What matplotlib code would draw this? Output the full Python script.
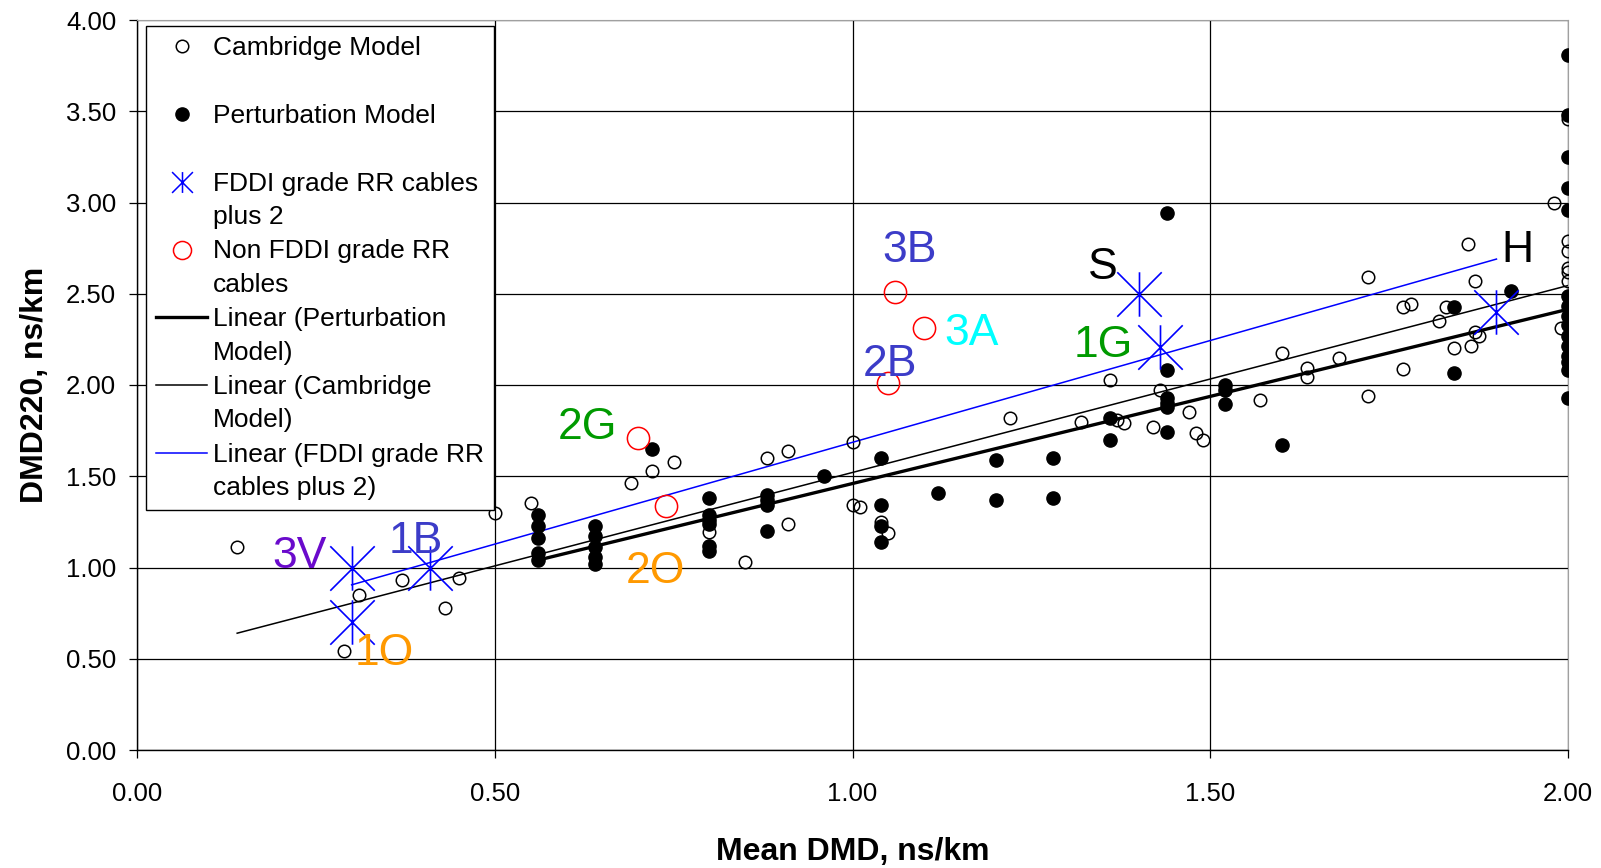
import numpy as np
import matplotlib
matplotlib.use("Agg")
import matplotlib.pyplot as plt
from matplotlib.lines import Line2D
from matplotlib.path import Path
from matplotlib.legend_handler import HandlerLine2D
from matplotlib.ticker import FormatStrFormatter, MultipleLocator

plt.rcParams["font.family"] = ["Liberation Sans", "DejaVu Sans"]

# ── Data ──────────────────────────────────────────────────────────────────────
camb_x = [0.14, 0.29, 0.31, 0.37, 0.43, 0.45, 0.50, 0.55, 0.69, 0.72, 0.75,
          0.80, 0.85, 0.88, 0.91, 0.91, 1.00, 1.00, 1.01, 1.04, 1.05, 1.22,
          1.32, 1.36, 1.37, 1.38, 1.42, 1.43, 1.47, 1.48, 1.49, 1.57, 1.60,
          1.635, 1.635, 1.68, 1.72, 1.72, 1.77, 1.77, 1.78, 1.82, 1.83, 1.84,
          1.86, 1.87, 1.87, 1.875, 1.865, 1.98, 1.99, 2.00, 2.00, 2.00, 2.00,
          2.00, 2.00]
camb_y = [1.11, 0.54, 0.85, 0.93, 0.78, 0.94, 1.30, 1.355, 1.465, 1.53, 1.58,
          1.195, 1.03, 1.60, 1.64, 1.24, 1.69, 1.34, 1.33, 1.25, 1.19, 1.82,
          1.795, 2.03, 1.81, 1.79, 1.77, 1.97, 1.85, 1.735, 1.70, 1.92, 2.175,
          2.095, 2.045, 2.15, 1.94, 2.59, 2.09, 2.43, 2.445, 2.35, 2.43, 2.205,
          2.775, 2.57, 2.29, 2.27, 2.215, 3.00, 2.31, 3.46, 2.79, 2.735, 2.64,
          2.62, 2.57]

pert_x = [0.56, 0.56, 0.56, 0.56, 0.56,
          0.64, 0.64, 0.64, 0.64, 0.64,
          0.72,
          0.80, 0.80, 0.80, 0.80, 0.80, 0.80,
          0.88, 0.88, 0.88, 0.88,
          0.96,
          1.04, 1.04, 1.04, 1.04,
          1.12,
          1.20, 1.20,
          1.28, 1.28,
          1.36, 1.36,
          1.44, 1.44, 1.44, 1.44, 1.44, 1.44,
          1.52, 1.52, 1.52,
          1.60,
          1.84, 1.84,
          1.92,
          2.00, 2.00, 2.00, 2.00, 2.00, 2.00, 2.00, 2.00, 2.00, 2.00, 2.00,
          2.00, 2.00, 2.00, 2.00]
pert_y = [1.29, 1.23, 1.16, 1.08, 1.04,
          1.23, 1.17, 1.11, 1.06, 1.02,
          1.65,
          1.38, 1.29, 1.26, 1.24, 1.12, 1.09,
          1.40, 1.37, 1.34, 1.20,
          1.50,
          1.60, 1.34, 1.23, 1.14,
          1.41,
          1.59, 1.37,
          1.60, 1.38,
          1.82, 1.70,
          2.94, 2.08, 1.93, 1.90, 1.88, 1.745,
          2.00, 1.975, 1.895,
          1.67,
          2.43, 2.065,
          2.515,
          3.81, 3.48, 3.25, 3.08, 2.96, 2.49, 2.435, 2.38, 2.33, 2.27, 2.215,
          2.16, 2.125, 2.08, 1.93]

fddi_x = [0.30, 0.30, 0.41, 1.40, 1.43, 1.90]
fddi_y = [1.00, 0.70, 1.00, 2.50, 2.21, 2.40]

nonfddi_x = [0.70, 0.74, 1.05, 1.06, 1.10]
nonfddi_y = [1.71, 1.335, 2.01, 2.51, 2.31]

# linear trend lines (end points as drawn)
pert_fit_x = [0.56, 2.00]
pert_fit_y = [1.04, 2.415]
camb_fit_x = [0.14, 2.00]
camb_fit_y = [0.64, 2.545]
fddi_fit_x = [0.30, 1.90]
fddi_fit_y = [0.905, 2.69]

# cable name labels
cable_names  = ["3V", "1B", "1O", "2G", "2O", "2B", "3B", "3A", "S", "1G", "H"]
cable_x      = [0.227, 0.39, 0.345, 0.629, 0.724, 1.052, 1.08, 1.166, 1.35, 1.35, 1.93]
cable_y      = [1.09, 1.172, 0.559, 1.795, 1.007, 2.143, 2.765, 2.31, 2.674, 2.243, 2.765]
cable_colors = ["#6a0acc", "#3c3cc8", "#ff9900", "#009a00", "#ff9900", "#3c3cc8",
                "#3c3cc8", "#00ffff", "black", "#009a00", "black"]

# ── Figure ────────────────────────────────────────────────────────────────────
W, H = 1601, 868
fig = plt.figure(figsize=(W / 100, H / 100), dpi=100)
ax = fig.add_axes([137 / W, 118 / H, 1431 / W, 730 / H])

star = Path([(0, -1), (0, 1), (-1, -1), (1, 1), (-1, 1), (1, -1)],
            [Path.MOVETO, Path.LINETO] * 3)

ax.plot(pert_fit_x, pert_fit_y, color="black", lw=2.4, zorder=3)
ax.plot(camb_fit_x, camb_fit_y, color="black", lw=1.1, zorder=3)
ax.plot(fddi_fit_x, fddi_fit_y, color="blue", lw=1.1, zorder=3)

ax.plot(camb_x, camb_y, ls="none", marker="o", ms=9, mfc="none",
        mec="black", mew=1.1, zorder=4)
ax.plot(pert_x, pert_y, ls="none", marker="o", ms=9.5, mfc="black",
        mec="black", zorder=4)
ax.plot(fddi_x, fddi_y, ls="none", marker=star, ms=32, mfc="none",
        mec="blue", mew=1.2, zorder=5)
ax.plot(nonfddi_x, nonfddi_y, ls="none", marker="o", ms=16, mfc="none",
        mec="red", mew=1.1, zorder=5)

# labels nudged a few points down so the capitals centre on the read position
for name, x, y, c in zip(cable_names, cable_x, cable_y, cable_colors):
    ax.annotate(name, (x, y), xytext=(0, -3.8), textcoords="offset points",
                color=c, fontsize=32, ha="center", va="center", zorder=6)

ax.set_xlim(0, 2)
ax.set_ylim(0, 4)
ax.xaxis.set_major_locator(MultipleLocator(0.5))
ax.yaxis.set_major_locator(MultipleLocator(0.5))
ax.xaxis.set_major_formatter(FormatStrFormatter("%.2f"))
ax.yaxis.set_major_formatter(FormatStrFormatter("%.2f"))
ax.grid(True, color="black", lw=0.9, zorder=0)
ax.set_axisbelow(True)
ax.tick_params(axis="both", direction="out", length=6, width=0.9,
               labelsize=18.5, colors="black")
ax.tick_params(axis="x", pad=17)
ax.tick_params(axis="y", pad=9)
for side in ("top", "right"):
    ax.spines[side].set_color("#a0a0a0")
for side in ("left", "bottom"):
    ax.spines[side].set_color("black")
    ax.spines[side].set_linewidth(1.0)

ax.set_xlabel("Mean DMD, ns/km", fontsize=23, fontweight="bold")
ax.set_ylabel("DMD220, ns/km", fontsize=23, fontweight="bold")
ax.xaxis.set_label_coords(0.5, -0.119)
ax.yaxis.set_label_coords(-0.061, 0.5)


# legend: handles sit on the first line of each label
class FirstLineHandler(HandlerLine2D):
    def create_artists(self, legend, orig_handle, xdescent, ydescent,
                       width, height, fontsize, trans):
        arts = super().create_artists(legend, orig_handle, xdescent, ydescent,
                                      width, height, fontsize, trans)
        for a in arts:
            a.set_ydata(np.asarray(a.get_ydata(), dtype=float) + 0.71 * fontsize)
        return arts


handles = [
    Line2D([], [], ls="none", marker="o", ms=9, mfc="none", mec="black", mew=1.1),
    Line2D([], [], ls="none", marker="o", ms=9.5, mfc="black", mec="black"),
    Line2D([], [], ls="none", marker=star, ms=15, mfc="none", mec="blue", mew=1.1),
    Line2D([], [], ls="none", marker="o", ms=13, mfc="none", mec="red", mew=1.1),
    Line2D([], [], color="black", lw=2.4),
    Line2D([], [], color="black", lw=1.1),
    Line2D([], [], color="blue", lw=1.1),
]
labels = [
    "Cambridge Model\n",
    "Perturbation Model\n",
    "FDDI grade RR cables\nplus 2",
    "Non FDDI grade RR\ncables",
    "Linear (Perturbation\nModel)",
    "Linear (Cambridge\nModel)",
    "Linear (FDDI grade RR\ncables plus 2)",
]
leg = ax.legend(handles, labels, loc="upper left",
                bbox_to_anchor=(146 / W, 1 - 26 / H), bbox_transform=fig.transFigure,
                borderaxespad=0, fontsize=19, frameon=True, fancybox=False,
                edgecolor="black", framealpha=1, handlelength=1.95,
                handletextpad=0.2, borderpad=0.38, labelspacing=0.39,
                handler_map={Line2D: FirstLineHandler()})
leg.get_frame().set_linewidth(1.0)
for t in leg.get_texts():
    t.set_linespacing(1.5)

fig.savefig("out.png", dpi=100)
